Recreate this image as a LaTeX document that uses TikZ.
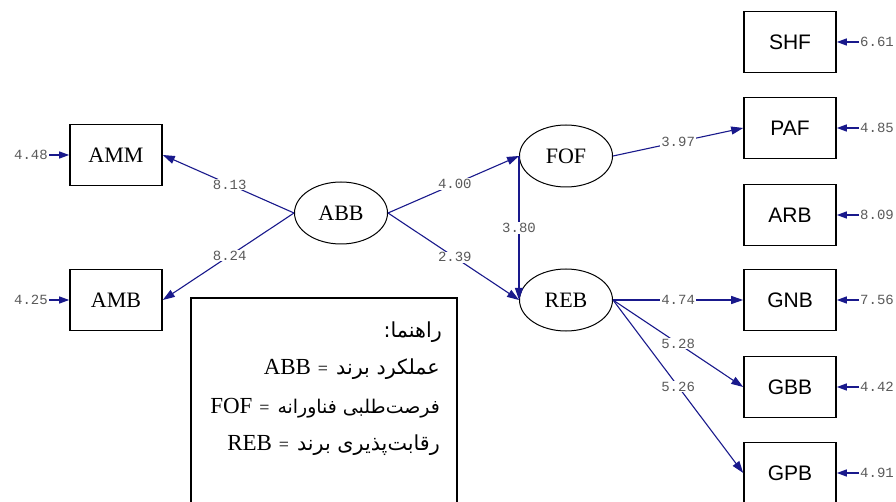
\documentclass[tikz,border=0pt]{standalone}
\usepackage{fontspec}
\setmainfont{Liberation Serif}
\newfontfamily\arialf{Liberation Sans}
\newfontfamily\courf{Liberation Mono}
\newfontfamily\arabicfont[Script=Arabic,Scale=0.9]{DejaVu Sans}
\TeXXeTstate=1
\usetikzlibrary{shapes.geometric,arrows.meta}
\definecolor{linecol}{RGB}{25,25,140}
\definecolor{numcol}{RGB}{90,90,90}
\newcommand{\smeq}{\hspace{0.3em}{\fontsize{18}{20}\selectfont=}\hspace{0.35em}}
\tikzset{
  obsbox/.style={draw=black,line width=1.6pt,minimum width=92pt,minimum height=61pt,inner sep=0pt,font=\arialf\fontsize{21}{24}\selectfont},
  sidebox/.style={draw=black,line width=1.6pt,minimum width=92pt,minimum height=61pt,inner sep=0pt,font=\fontsize{22}{26}\selectfont},
  latent/.style={ellipse,draw=black,line width=1pt,minimum width=93pt,minimum height=62pt,inner sep=0pt,font=\fontsize{22}{26}\selectfont},
  path/.style={draw=linecol,line width=1.1pt,-{Triangle[length=12pt,width=8pt]}},
  errpath/.style={draw=linecol,line width=1.3pt,-{Triangle[length=10pt,width=7pt]}},
  coef/.style={fill=white,inner sep=1pt,text=numcol,font=\courf\fontsize{14}{16}\selectfont},
  errlab/.style={inner sep=1pt,text=numcol,font=\courf\fontsize{14}{16}\selectfont},
  legtext/.style={anchor=east,inner sep=0pt,font=\fontsize{23}{27}\selectfont}
}
\begin{document}
\begin{tikzpicture}[x=1pt,y=-1pt]
\useasboundingbox (0,0) rectangle (896,502);
\clip (0,0) rectangle (896,502);
\fill[white] (0,0) rectangle (896,502);
% nodes
\node[sidebox] (AMM) at (116,155) {AMM};
\node[sidebox] (AMB) at (116,300) {AMB};
\node[latent] (ABB) at (341,213) {ABB};
\node[latent] (FOF) at (566,156) {FOF};
\node[latent] (REB) at (566,300) {REB};
\node[obsbox] (SHF) at (790,42) {SHF};
\node[obsbox] (PAF) at (790,128) {PAF};
\node[obsbox] (ARB) at (790,215) {ARB};
\node[obsbox] (GNB) at (790,300) {GNB};
\node[obsbox] (GBB) at (790,387) {GBB};
\node[obsbox] (GPB) at (790,473) {GPB};
% error labels
\node[errlab,anchor=east] (eAMM) at (49,155) {4.48};
\node[errlab,anchor=east] (eAMB) at (49,300) {4.25};
\node[errlab,anchor=west] (eSHF) at (859,42) {6.61};
\node[errlab,anchor=west] (ePAF) at (859,128) {4.85};
\node[errlab,anchor=west] (eARB) at (859,215) {8.09};
\node[errlab,anchor=west] (eGNB) at (859,300) {7.56};
\node[errlab,anchor=west] (eGBB) at (859,387) {4.42};
\node[errlab,anchor=west] (eGPB) at (859,473) {4.91};
\draw[errpath] (eAMM.east) -- (AMM.west);
\draw[errpath] (eAMB.east) -- (AMB.west);
\draw[errpath] (eSHF.west) -- (SHF.east);
\draw[errpath] (ePAF.west) -- (PAF.east);
\draw[errpath] (eARB.west) -- (ARB.east);
\draw[errpath] (eGNB.west) -- (GNB.east);
\draw[errpath] (eGBB.west) -- (GBB.east);
\draw[errpath] (eGPB.west) -- (GPB.east);
% structural paths
\draw[path] (ABB.west) -- node[coef,pos=0.49] {8.13} (AMM.east);
\draw[path] (ABB.west) -- node[coef,pos=0.49] {8.24} (AMB.east);
\draw[path] (ABB.east) -- node[coef,pos=0.51] {4.00} (FOF.west);
\draw[path] (ABB.east) -- node[coef,pos=0.51] {2.39} (REB.west);
\draw[path] (FOF.west) -- node[coef,pos=0.5] {3.80} (REB.west);
\draw[path] (FOF.east) -- node[coef,pos=0.5] {3.97} (PAF.west);
\draw[path] (REB.east) -- node[coef,pos=0.5] {4.74} (GNB.west);
\draw[path] (REB.east) -- node[coef,pos=0.5] {5.28} (GBB.west);
\draw[path] (REB.east) -- node[coef,pos=0.5] {5.26} (GPB.west);
% legend
\draw[line width=1.2pt] (191,520) -- (191,298) -- (457,298) -- (457,520);
\node[legtext] (L1) at (442,332) {{\arabicfont\beginR راهنما:\endR}};
\node[legtext] (L2) at (440,369) {ABB\smeq{\arabicfont\beginR عملکرد برند\endR}};
\node[legtext] (L3) at (440,408) {FOF\smeq{\arabicfont\fontsize{21}{27}\selectfont\beginR فرصت^^^^200cطلبی فناورانه\endR}};
\node[legtext] (L4) at (440,445) {REB\smeq{\arabicfont\beginR رقابت^^^^200cپذیری برند\endR}};
\end{tikzpicture}
\end{document}
